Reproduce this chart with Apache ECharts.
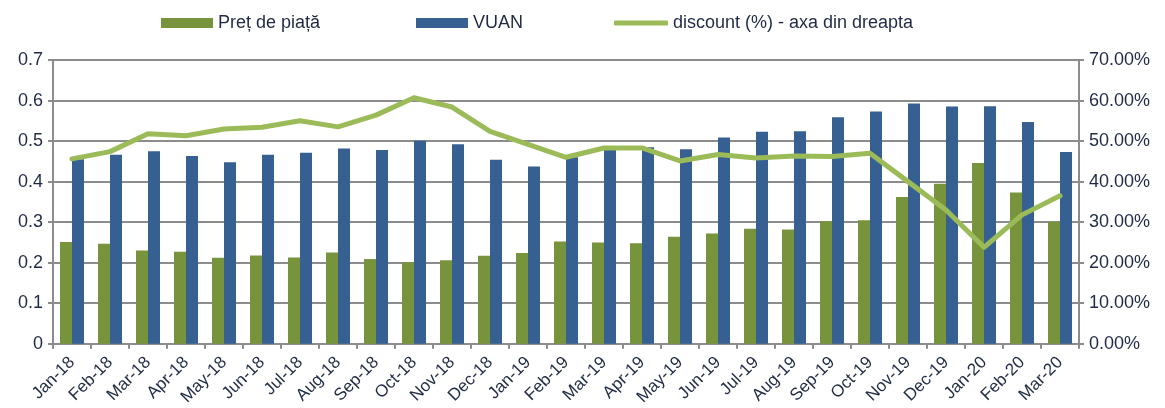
<!DOCTYPE html>
<html>
<head>
<meta charset="utf-8">
<script src="https://cdn.jsdelivr.net/npm/echarts@6/dist/echarts.min.js"></script>
<style>
  html, body { margin: 0; padding: 0; background: #fff; }
  #main { width: 1165px; height: 408px; }
</style>
</head>
<body>
<div id="main"></div>
<script>
var chartDom = document.getElementById('main');
var myChart = echarts.init(chartDom);
var option;

let months = ['Jan-18','Feb-18','Mar-18','Apr-18','May-18','Jun-18','Jul-18','Aug-18','Sep-18',
  'Oct-18','Nov-18','Dec-18','Jan-19','Feb-19','Mar-19','Apr-19','May-19','Jun-19','Jul-19',
  'Aug-19','Sep-19','Oct-19','Nov-19','Dec-19','Jan-20','Feb-20','Mar-20'];
// pret de piata (left axis)
let pret = [0.251,0.247,0.230,0.227,0.212,0.218,0.213,0.225,0.209,
  0.201,0.206,0.217,0.224,0.252,0.250,0.248,0.264,0.272,0.284,
  0.282,0.302,0.305,0.362,0.395,0.446,0.373,0.301];
// VUAN (left axis)
let vuan = [0.455,0.466,0.475,0.463,0.448,0.466,0.471,0.482,0.478,
  0.501,0.492,0.454,0.437,0.460,0.485,0.485,0.480,0.509,0.523,
  0.524,0.559,0.573,0.593,0.585,0.586,0.547,0.473];
// discount in % (right axis)
let discount = [45.6,47.4,51.8,51.3,53.0,53.4,55.0,53.5,56.4,
  60.7,58.4,52.4,49.2,46.0,48.3,48.3,45.1,46.7,45.8,
  46.3,46.2,47.0,40.0,33.0,23.8,31.8,36.5];

let txt = '#1f2a44';
let grey = '#8c8c8c';
let font = 'Arial, "Liberation Sans", sans-serif';

function legendAt(name, left, extra) {
  return Object.assign({
    data: [name],
    left: left,
    top: 14,
    itemWidth: 52,
    itemHeight: 10,
    itemGap: 0,
    padding: 0,
    icon: 'rect',
    textStyle: { fontSize: 18, color: txt, fontFamily: font }
  }, extra || {});
}

option = {
  animation: false,
  legend: [
    legendAt('Preț de piață', 161),
    legendAt('VUAN', 416),
    legendAt('discount (%) - axa din dreapta', 614, { icon: 'roundRect', itemWidth: 54, itemHeight: 5 })
  ],
  grid: { left: 53, right: 86, top: 60, bottom: 64 },
  xAxis: {
    type: 'category',
    data: months,
    axisLine: { lineStyle: { color: grey, width: 2 } },
    axisTick: { show: true, length: 5, lineStyle: { color: grey, width: 2 } },
    axisLabel: { rotate: 45, fontSize: 17, color: txt, fontFamily: font, margin: 16, interval: 0 }
  },
  yAxis: [
    {
      type: 'value', min: 0, max: 0.7, interval: 0.1,
      axisLine: { show: true, lineStyle: { color: grey, width: 2 } },
      axisTick: { show: true, length: 5, lineStyle: { color: grey, width: 2 } },
      splitLine: { lineStyle: { color: grey, width: 2 } },
      axisLabel: { fontSize: 18, color: txt, fontFamily: font, margin: 10,
        formatter: function (v) { return v === 0 ? '0' : v.toFixed(1); } }
    },
    {
      type: 'value', min: 0, max: 70, interval: 10,
      axisLine: { show: true, lineStyle: { color: grey, width: 2 } },
      axisTick: { show: true, length: 5, lineStyle: { color: grey, width: 2 } },
      splitLine: { show: false },
      axisLabel: { fontSize: 18, color: txt, fontFamily: font, margin: 10,
        formatter: function (v) { return v.toFixed(2) + '%'; } }
    }
  ],
  series: [
    {
      name: 'Preț de piață', type: 'bar', data: pret,
      barWidth: 12, barGap: '0%',
      itemStyle: { color: '#77933c' }
    },
    {
      name: 'VUAN', type: 'bar', data: vuan,
      barWidth: 12,
      itemStyle: { color: '#376092' }
    },
    {
      name: 'discount (%) - axa din dreapta', type: 'line', data: discount,
      yAxisIndex: 1, symbol: 'none', z: 5,
      lineStyle: { color: '#9bbb59', width: 5, cap: 'round', join: 'round' },
      itemStyle: { color: '#9bbb59' }
    }
  ]
};

option && myChart.setOption(option);
</script>
</body>
</html>
